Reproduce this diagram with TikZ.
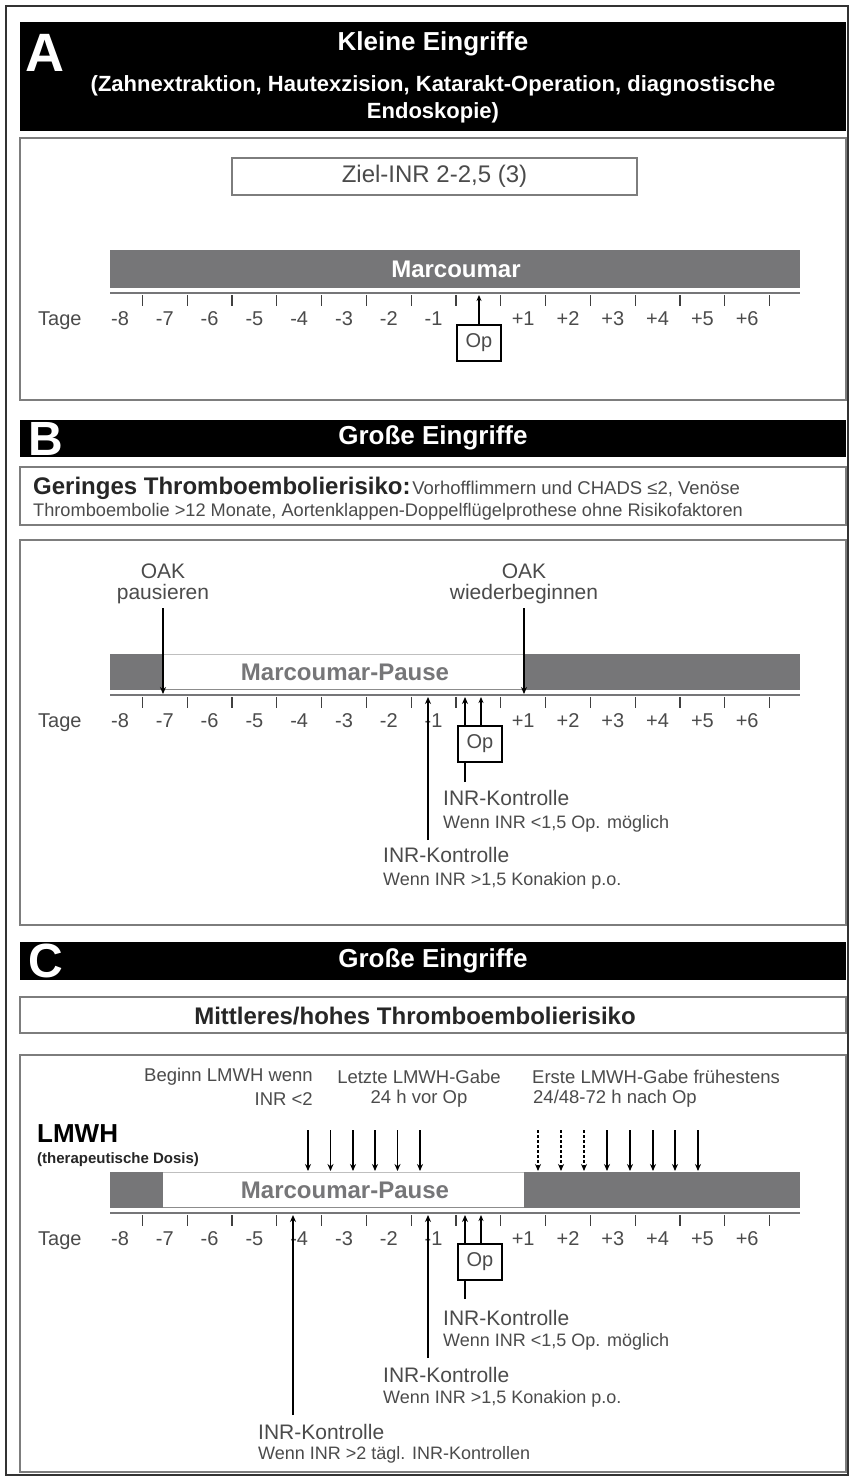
\documentclass[tikz,border=0pt]{standalone}
\usepackage{fontspec}
\setmainfont{Liberation Sans}
\usetikzlibrary{arrows.meta}
\definecolor{barg}{RGB}{118,118,120}
\definecolor{txt}{RGB}{75,75,75}
\definecolor{frame}{RGB}{125,125,125}
\newcommand\myaxis[2]{%
  \draw[ax] (110,#1) -- (800,#1);
  \foreach \k in {0,...,14} \draw[tk] ({120+44.8*(\k+0.5)},#1+2) -- ({120+44.8*(\k+0.5)},#1+13);
  \node[daylbl, anchor=base west] (#2tage) at (38,#1+32) {Tage};
  \foreach \d in {-8,...,-1} \node[daylbl, anchor=base] (#2d\d) at ({120+44.8*(\d+8)},#1+32) {\d};
  \foreach \d in {1,...,6} \node[daylbl, anchor=base] (#2p\d) at ({120+44.8*(\d+8)},#1+32) {+\d};
}
\begin{document}
\begin{tikzpicture}[x=1pt,y=-1pt,
  hdr/.style={fill=black},
  pbox/.style={draw=frame, line width=1.6pt, fill=white},
  gbar/.style={fill=barg},
  ax/.style={draw=barg, line width=2.5pt},
  tk/.style={draw=black!75, line width=1.2pt},
  daylbl/.style={font=\fontsize{20}{22}\selectfont, text=txt, inner sep=0pt},
  lbl/.style={font=\fontsize{21}{23}\selectfont, text=txt, inner sep=0pt},
  sublbl/.style={font=\fontsize{18}{20}\selectfont, text=txt, inner sep=0pt},
  toplbl/.style={font=\fontsize{18.5}{20}\selectfont, text=txt, inner sep=0pt},
  opbox/.style={draw=black, line width=2pt, fill=white, minimum width=44pt, minimum height=36pt, font=\fontsize{20}{22}\selectfont, text=txt, inner sep=0pt},
  bigletter/.style={font=\fontsize{48}{48}\bfseries\selectfont, text=white, inner sep=0pt},
  htitle/.style={font=\fontsize{26}{28}\bfseries\selectfont, text=white, inner sep=0pt},
  hsub/.style={font=\fontsize{22}{24}\bfseries\selectfont, text=white, inner sep=0pt},
  pause/.style={font=\fontsize{24}{26}\bfseries\selectfont, text=barg, inner sep=0pt},
  arr/.style={draw=black, line width=2.2pt, -{Stealth[length=7pt,width=6pt]}},
  thk/.style={draw=black, line width=2.6pt},
  thinarr/.style={draw=black, line width=1.3pt, -{Stealth[length=6pt,width=5pt]}},
  lmwh/.style={draw=black, line width=1.8pt, -{Stealth[length=7pt,width=6pt]}},
]
\useasboundingbox (0,0) rectangle (849,1476);
\fill[white] (0,0) rectangle (849,1476);
\draw[line width=1.5pt, black!80] (6,6) rectangle (848,1475);

% ================= Panel A =================
\fill[hdr] (20,22) rectangle (846,131);
\node[bigletter, font=\fontsize{54}{54}\bfseries\selectfont] (Aletter) at (45,53) {A};
\node[htitle] (Atitle) at (433,44) {Kleine Eingriffe};
\node[hsub] (Asub1) at (433,86) {(Zahnextraktion, Hautexzision, Katarakt-Operation, diagnostische};
\node[hsub] (Asub2) at (433,113) {Endoskopie)};
\draw[pbox] (20,138) rectangle (846,400);
\node[draw=frame, line width=1.5pt, minimum width=405pt, minimum height=37pt, lbl, font=\fontsize{24}{26}\selectfont] (ziel) at (434.5,176.5) {Ziel-INR 2-2,5 (3)};
\fill[gbar] (110,250) rectangle (800,288);
\node[font=\fontsize{24}{26}\bfseries\selectfont, text=white, inner sep=0pt] (marcA) at (456,269) {Marcoumar};
\myaxis{293}{A}
\node[opbox] (opA) at (479,342.5) {Op};
\coordinate (opAax) at (479,295);
\draw[thinarr] (opA.north) -- (opAax);

% ================= Panel B =================
\fill[hdr] (20,420) rectangle (846,457);
\node[bigletter] (Bletter) at (46,439) {B};
\node[htitle] (Btitle) at (433,438) {Große Eingriffe};
\draw[pbox] (20,467) rectangle (846,525);
\node[anchor=base west, inner sep=0pt, text=black!85] (Binfo1) at (33,494)
  {{\fontsize{24}{26}\bfseries\selectfont Geringes Thromboembolierisiko:}\,{\fontsize{18.5}{20}\selectfont\color{txt} Vorhofflimmern und CHADS ≤2, Venöse}};
\node[anchor=base west, inner sep=0pt, text=txt, font=\fontsize{18.2}{20}\selectfont] (Binfo2) at (33,516)
  {Thromboembolie >12 Monate, Aortenklappen-Doppelflügelprothese ohne Risikofaktoren};
\draw[pbox] (20,540) rectangle (846,925);
% bar
\fill[gbar] (110,654) rectangle (163,690);
\fill[gbar] (524,654) rectangle (800,690);
\draw[black!25, line width=1pt] (163,654.5) -- (524,654.5);
\draw[black!45, line width=1pt] (163,689.5) -- (524,689.5);
\node[pause] (pauseB) at (345,672) {Marcoumar-Pause};
\myaxis{695}{B}
% OAK
\node[lbl] (oakB1) at (163,571) {OAK};
\node[lbl] (oakB1b) at (163,594) {pausieren};
\node[lbl] (oakB2) at (524,571) {OAK};
\node[lbl] (oakB2b) at (524,594) {wiederbeginnen};
\coordinate (oakB1ax) at (163,694);
\coordinate (oakB2ax) at (524,694);
\coordinate (oakB1top) at (163,608);
\coordinate (oakB2top) at (524,608);
\draw[arr] (oakB1top) -- (oakB1ax);
\draw[arr] (oakB2top) -- (oakB2ax);
% INR -1
\node[lbl, anchor=base west] (inrB1) at (383,862) {INR-Kontrolle};
\node[sublbl, anchor=base west] (inrB1s) at (383,885) {Wenn INR >1,5 Konakion p.o.};
\coordinate (inrB1bot) at (428,840);
\coordinate (inrB1ax) at (428,697);
\draw[arr] (inrB1bot) -- (inrB1ax);
% Op
\node[opbox] (opB) at (480,743.5) {Op};
\coordinate (opBlow) at (465,782);
\coordinate (opBax1) at (465,697);
\coordinate (opBax2) at (481,697);
\draw[thk] (opBlow) -- (opBlow |- opB.south);
\draw[arr] (opB.north -| opBlow) -- (opBax1);
\draw[thinarr] (opB.north -| opBax2) -- (opBax2);
\node[lbl, anchor=base west] (inrB2) at (443,805) {INR-Kontrolle};
\node[sublbl, anchor=base west] (inrB2s) at (443,828) {Wenn INR <1,5 Op. möglich};

% ================= Panel C =================
\fill[hdr] (20,942) rectangle (846,980);
\node[bigletter] (Cletter) at (46,961) {C};
\node[htitle] (Ctitle) at (433,961) {Große Eingriffe};
\draw[pbox] (20,997) rectangle (846,1033);
\node[font=\fontsize{24}{26}\bfseries\selectfont, text=black!85, inner sep=0pt] (Cinfo) at (415,1016) {Mittleres/hohes Thromboembolierisiko};
\draw[pbox] (20,1055) rectangle (846,1472);
% top labels
\node[toplbl, anchor=east] (beg1) at (313,1077) {Beginn LMWH wenn};
\node[toplbl, anchor=east] (beg2) at (313,1099) {INR <2};
\node[toplbl] (letz1) at (419,1077) {Letzte LMWH-Gabe};
\node[toplbl] (letz2) at (419,1099) {24 h vor Op};
\node[toplbl, anchor=west] (erst1) at (532,1077) {Erste LMWH-Gabe frühestens};
\node[toplbl, anchor=west] (erst2) at (533,1099) {24/48-72 h nach Op};
\node[font=\fontsize{26}{28}\bfseries\selectfont, anchor=west, inner sep=0pt] (lmwhT) at (37,1134) {LMWH};
\node[font=\fontsize{15}{17}\bfseries\selectfont, anchor=west, inner sep=0pt, text=black!85] (lmwhS) at (37,1160) {(therapeutische Dosis)};
% bar
\fill[gbar] (110,1172) rectangle (163,1208);
\fill[gbar] (524,1172) rectangle (800,1208);
\draw[black!25, line width=1pt] (163,1172.5) -- (524,1172.5);
\draw[black!45, line width=1pt] (163,1207.5) -- (524,1207.5);
\node[pause] (pauseC) at (345,1190) {Marcoumar-Pause};
% LMWH arrows
\foreach \i/\x in {1/308,2/330.5,3/353,4/375,5/397.5,6/420} {
  \coordinate (lt\i) at (\x,1130);
  \coordinate (lb\i) at (\x,1171);
  \draw[lmwh] (lt\i) -- (lb\i);
}
\foreach \i/\x in {1/538,2/561,3/584} {
  \coordinate (dt\i) at (\x,1130);
  \coordinate (db\i) at (\x,1171);
  \draw[lmwh, dash pattern=on 3pt off 2pt] (dt\i) -- (db\i);
}
\foreach \i/\x in {1/607,2/630,3/653,4/675,5/698} {
  \coordinate (st\i) at (\x,1130);
  \coordinate (sb\i) at (\x,1171);
  \draw[lmwh] (st\i) -- (sb\i);
}
\myaxis{1213}{C}
% INR arrows
\node[lbl, anchor=base west] (inrC3) at (258,1439) {INR-Kontrolle};
\node[sublbl, anchor=base west] (inrC3s) at (258,1459) {Wenn INR >2 tägl. INR-Kontrollen};
\coordinate (inrC3bot) at (293,1415);
\coordinate (inrC3ax) at (293,1215);
\draw[arr] (inrC3bot) -- (inrC3ax);
\node[lbl, anchor=base west] (inrC1) at (383,1382) {INR-Kontrolle};
\node[sublbl, anchor=base west] (inrC1s) at (383,1403) {Wenn INR >1,5 Konakion p.o.};
\coordinate (inrC1bot) at (428,1358);
\coordinate (inrC1ax) at (428,1215);
\draw[arr] (inrC1bot) -- (inrC1ax);
\node[opbox] (opC) at (480,1262) {Op};
\coordinate (opClow) at (465,1299);
\coordinate (opCax1) at (465,1215);
\coordinate (opCax2) at (481,1215);
\draw[thk] (opClow) -- (opClow |- opC.south);
\draw[arr] (opC.north -| opClow) -- (opCax1);
\draw[thinarr] (opC.north -| opCax2) -- (opCax2);
\node[lbl, anchor=base west] (inrC2) at (443,1325) {INR-Kontrolle};
\node[sublbl, anchor=base west] (inrC2s) at (443,1346) {Wenn INR <1,5 Op. möglich};
\end{tikzpicture}
\end{document}
